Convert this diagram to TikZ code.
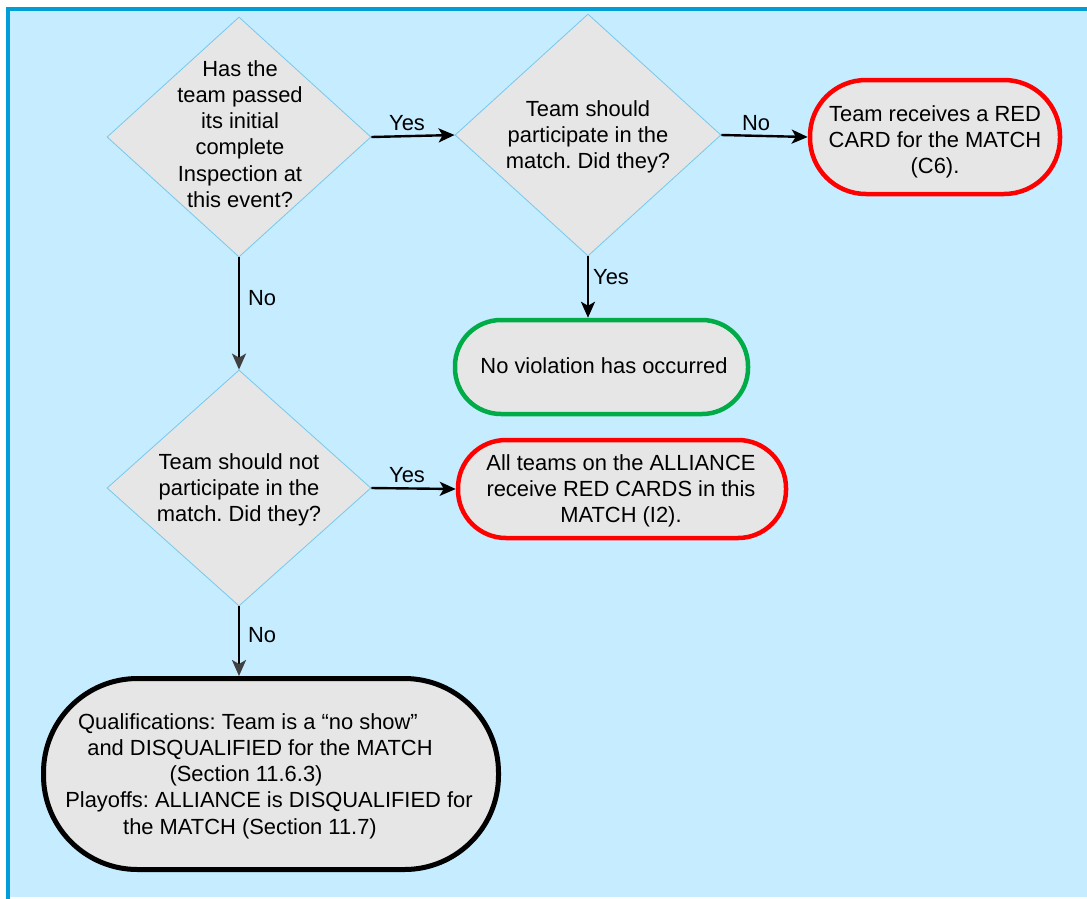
\documentclass[tikz,border=0pt]{standalone}
\usepackage{fontspec}
\setmainfont{Liberation Sans}
\frenchspacing
\usetikzlibrary{shapes.geometric,arrows.meta}
\definecolor{bgblue}{RGB}{197,236,255}
\definecolor{frameblue}{RGB}{0,157,214}
\definecolor{boxgray}{RGB}{230,230,230}
\definecolor{diaedge}{RGB}{120,200,235}
\definecolor{termred}{RGB}{255,0,0}
\definecolor{termgreen}{RGB}{0,172,72}
\definecolor{headgray}{RGB}{64,64,64}
\begin{document}
\begin{tikzpicture}[x=1pt,y=-1pt,
  every node/.style={font=\fontsize{21.9}{26.2}\selectfont\frenchspacing, text=black},
  dia/.style={diamond, draw=diaedge, line width=0.8pt, fill=boxgray, inner sep=0pt},
  txt/.style={align=center, inner sep=0pt},
  term/.style={rectangle, fill=boxgray, line width=4.5pt, inner sep=0pt, align=center},
  lab/.style={inner sep=0pt},
  arr/.style={draw=black, line width=2.4pt, -{Stealth[length=16pt,width=14pt,inset=4pt]}},
  arrg/.style={draw=black, line width=2.4pt, -{Stealth[length=16pt,width=14pt,inset=4pt,color=headgray]}}
]
\useasboundingbox (0,0) rectangle (1087,898);
\clip (0,0) rectangle (1087,898);
\fill[white] (0,0) rectangle (1087,898);
\fill[bgblue] (8,9) rectangle (1100,897);
\draw[frameblue, line width=4.5pt] (8,9) rectangle (1200,1000);

% decisions
\node[dia, minimum width=264pt, minimum height=240pt] (d1) at (239,137) {};
\node[txt] (d1t) at (240,134) {Has the\\team passed\\its initial\\complete\\Inspection at\\this event?};
\node[dia, minimum width=266pt, minimum height=242pt] (d2) at (588,135) {};
\node[txt] (d2t) at (588,137) {Team should\\participate in the\\match. Did they?};
\node[dia, minimum width=264pt, minimum height=236pt] (d3) at (239,488) {};
\node[txt] (d3t) at (239,490) {Team should not\\participate in the\\match. Did they?};

% terminators
\node[term, draw=termred, minimum width=250pt, minimum height=114pt, rounded corners=56pt] (t1) at (935,137) {};
\node[txt] (t1t) at (935,142) {Team receives a RED\\CARD for the MATCH\\(C6).};
\node[term, draw=termgreen, minimum width=293pt, minimum height=94pt, rounded corners=46pt] (t2) at (601.5,367) {};
\node[txt] (t2t) at (604,366) {No violation has occurred};
\node[term, draw=termred, minimum width=328pt, minimum height=98pt, rounded corners=48pt] (t3) at (622,489) {};
\node[txt] (t3t) at (621,491) {All teams on the ALLIANCE\\receive RED CARDS in this\\MATCH (I2).};
\node[term, draw=black, line width=5pt, minimum width=455pt, minimum height=191pt, rounded corners=94pt] (t4) at (271,774) {};
\node[txt] (t4t) at (255,776) {\hspace*{-14pt}Qualifications: Team is a “no show”\\\hspace*{10pt}and DISQUALIFIED for the MATCH\\\hspace*{-18pt}(Section 11.6.3)\\\hspace*{28pt}Playoffs: ALLIANCE is DISQUALIFIED for\\\hspace*{-10pt}the MATCH (Section 11.7)};

% connectors
\draw[arr] (d1.east) -- (d2.west);
\draw[arr] (d2.east) -- (t1.west);
\draw[arrg] (d1.south) -- (d3.north);
\draw[arr] (d2.south) -- (d2.south |- t2.north);
\draw[arr] (d3.east) -- (t3.west);
\draw[arrg] (d3.south) -- (d3.south |- t4.north);

% labels
\node[lab] (l1) at (407,123) {Yes};
\node[lab] (l2) at (756,123) {No};
\node[lab] (l3) at (262,298) {No};
\node[lab] (l4) at (611,277) {Yes};
\node[lab] (l5) at (407,475) {Yes};
\node[lab] (l6) at (262,635) {No};
\end{tikzpicture}
\end{document}
